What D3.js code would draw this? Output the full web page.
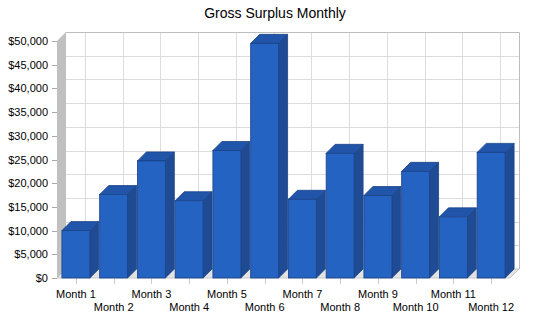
<!DOCTYPE html>
<html><head><meta charset="utf-8">
<script src="https://cdn.jsdelivr.net/npm/d3@7"></script>
<style>body{margin:0;background:#fff}svg{display:block;font-family:"Liberation Sans",Arial,sans-serif}</style>
</head><body><svg id="c" width="550" height="318"></svg>
<script>
const categories = ["Month 1","Month 2","Month 3","Month 4","Month 5","Month 6","Month 7","Month 8","Month 9","Month 10","Month 11","Month 12"];
const grossSurplus = [10000,17600,24700,16300,26900,49500,16600,26300,17400,22500,12900,26500];
const yTicks = [0,5000,10000,15000,20000,25000,30000,35000,40000,45000,50000];
const chartTitle = "Gross Surplus Monthly";

(function () {
const svg = d3.select("#c");
const D = 9;               // depth offset
const pLeft = 57, pRight = 510, pBottom = 278, pTop = 41;
const x = d3.scaleBand().domain(categories).range([pLeft, pRight]).paddingInner(0.26).paddingOuter(0.13);
const xc = d3.scaleBand().domain(categories).range([pLeft, pRight]);
const y = d3.scaleLinear().domain([0, 50000]).range([pBottom, pTop]);

svg.append("text").attr("x", 275).attr("y", 18).attr("text-anchor", "middle")
  .attr("font-size", 14).attr("fill", "#000").text(chartTitle);

const g = svg.append("g");
// left side wall
g.append("polygon").attr("points", [[pLeft, y(50000)], [pLeft + D, y(50000) - D], [pLeft + D, pBottom - D], [pLeft, pBottom]].join(" "))
  .attr("fill", "#c0c0c0");
// floor
g.append("polygon").attr("points", [[pLeft, pBottom], [pRight, pBottom], [pRight + D, pBottom - D], [pLeft + D, pBottom - D]].join(" "))
  .attr("fill", "#e3e3e3").attr("stroke", "#c8c8c8").attr("stroke-width", 1);
// back wall grid (horizontal)
g.selectAll("line.hg").data(yTicks.filter(t => t > 0)).join("line")
  .attr("x1", pLeft + D).attr("x2", pRight + D)
  .attr("y1", d => Math.round(y(d) - D) + 0.5).attr("y2", d => Math.round(y(d) - D) + 0.5)
  .attr("stroke", "#dcdcdc");
// back wall grid (vertical)
g.selectAll("line.vg").data(categories).join("line")
  .attr("x1", d => Math.round(xc(d) + xc.bandwidth() / 2 + D) + 0.5)
  .attr("x2", d => Math.round(xc(d) + xc.bandwidth() / 2 + D) + 0.5)
  .attr("y1", y(50000) - D).attr("y2", pBottom - D)
  .attr("stroke", "#dcdcdc");
// back wall border top/right
g.append("polyline").attr("points", [[pLeft + D, Math.round(y(50000) - D) + 0.5], [pRight + D + 0.5, Math.round(y(50000) - D) + 0.5], [pRight + D + 0.5, pBottom - D]].join(" "))
  .attr("fill", "none").attr("stroke", "#bdbdbd");

// y axis ticks and labels
const fmt = d3.format("$,");
g.selectAll("line.yt").data(yTicks).join("line")
  .attr("x1", 52).attr("x2", pLeft).attr("y1", d => Math.round(y(d)) + 0.5).attr("y2", d => Math.round(y(d)) + 0.5)
  .attr("stroke", "#aaa");
g.selectAll("text.yl").data(yTicks).join("text")
  .attr("x", 48).attr("y", d => y(d) + 4).attr("text-anchor", "end").attr("font-size", 11).attr("fill", "#000")
  .text(d => fmt(d));

// x ticks and labels
g.selectAll("line.xt").data(categories).join("line")
  .attr("x1", d => Math.round(xc(d) + xc.bandwidth() / 2) + 0.5).attr("x2", d => Math.round(xc(d) + xc.bandwidth() / 2) + 0.5)
  .attr("y1", pBottom).attr("y2", pBottom + 6).attr("stroke", "#ccc");
g.selectAll("text.xl").data(categories).join("text")
  .attr("x", d => xc(d) + xc.bandwidth() / 2)
  .attr("y", (d, i) => i % 2 === 0 ? 298 : 311)
  .attr("text-anchor", "middle").attr("font-size", 11).attr("fill", "#000").text(d => d);

// bars
const bars = g.selectAll("g.bar").data(categories.map((c, i) => ({c, v: grossSurplus[i]}))).join("g");
bars.append("polygon").attr("points", d => {
  const x0 = x(d.c) + x.bandwidth(), t = y(d.v);
  return [[x0, t], [x0 + D, t - D], [x0 + D, pBottom - D], [x0, pBottom]].join(" ");
}).attr("fill", "#1e4b94").attr("stroke", "#1a4288").attr("stroke-width", 0.8);
bars.append("polygon").attr("points", d => {
  const x0 = x(d.c), x1 = x0 + x.bandwidth(), t = y(d.v);
  return [[x0, t], [x0 + D, t - D], [x1 + D, t - D], [x1, t]].join(" ");
}).attr("fill", "#2155aa").attr("stroke", "#1a4288").attr("stroke-width", 0.8);
bars.append("rect").attr("x", d => x(d.c)).attr("y", d => y(d.v))
  .attr("width", x.bandwidth()).attr("height", d => pBottom - y(d.v))
  .attr("fill", "#2563c2").attr("stroke", "#1a4288").attr("stroke-width", 0.8);
})();
</script></body></html>
